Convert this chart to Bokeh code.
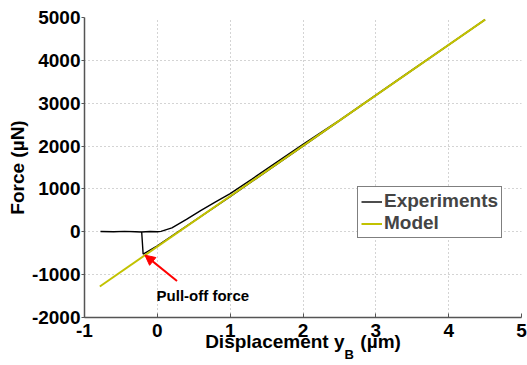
from bokeh.plotting import figure
from bokeh.models import (Label, Legend, LegendItem, Arrow, NormalHead, FixedTicker, Range1d,
                          LinearAxis, PrintfTickFormatter, Grid)
from bokeh.embed import file_html
from bokeh.resources import INLINE

# Data
model_x = [-0.79, 4.50]
model_y = [-1276, 4950]
exp_x = [-0.78, -0.6, -0.45, -0.3, -0.22, -0.1, 0.0, 0.05, 0.2, 0.4, 0.6, 0.8, 1.0, 1.3, 1.6, 2.0, 2.5, 3.0, 3.5, 4.0, 4.5,
         4.0, 3.0, 2.0, 1.0, 0.0, -0.195, -0.215]
exp_y = [5, 0, 10, 0, -5, 5, 0, 10, 90, 290, 500, 700, 890, 1230, 1580, 2040, 2600, 3190, 3780, 4360, 4950,
         4360, 3180, 2000, 820, -330, -520, 0]
x_ticks = [-1, 0, 1, 2, 3, 4, 5]
y_ticks = [-2000, -1000, 0, 1000, 2000, 3000, 4000, 5000]
x_title = "Displacement y\u00a0\u00a0\u00a0(µm)"
x_title_sub = "B"
y_title = "Force (µN)"
legend_labels = ["Experiments", "Model"]
annotation = "Pull-off force"

FONT = "Liberation Sans"
YEL = "#c2c200"
AX = "#555555"

p = figure(width=527, height=365, output_backend="svg", toolbar_location=None,
           x_range=Range1d(-1, 5), y_range=Range1d(-2000, 5000), x_axis_type=None,
           min_border_left=84, min_border_right=6, min_border_top=17, min_border_bottom=48)
p.outline_line_color = None
p.background_fill_color = "white"
p.border_fill_color = "white"

# main x axis
xa = LinearAxis(ticker=FixedTicker(ticks=x_ticks), formatter=PrintfTickFormatter(format="%d"))
p.add_layout(xa, "below")
# second (label-only) axis carrying the subscript of the x title
sub_pos = 2.633
xs = LinearAxis(ticker=FixedTicker(ticks=[sub_pos]), major_label_overrides={sub_pos: x_title_sub})
p.add_layout(xs, "below")

ya = p.yaxis[0]
ya.ticker = FixedTicker(ticks=y_ticks)
ya.formatter = PrintfTickFormatter(format="%d")

for ax in (xa, ya):
    ax.axis_line_color = AX
    ax.axis_line_width = 1.5
    ax.major_tick_line_color = AX
    ax.minor_tick_line_color = None
    ax.major_label_text_font = FONT
    ax.major_label_text_font_style = "bold"
    ax.major_label_text_font_size = "19px"
    ax.major_label_text_color = "black"
    ax.axis_label_text_font = FONT
    ax.axis_label_text_font_style = "bold"
    ax.axis_label_text_font_size = "19px"
    ax.axis_label_text_color = "black"

xa.major_tick_in = 4
xa.major_tick_out = 0
xa.major_label_standoff = 6
xa.axis_label = x_title
xa.axis_label_standoff = -9

xs.axis_line_color = None
xs.major_tick_line_color = None
xs.minor_tick_line_color = None
xs.major_tick_in = 0
xs.major_tick_out = 0
xs.major_label_standoff = -8
xs.major_label_text_font = FONT
xs.major_label_text_font_style = "bold"
xs.major_label_text_font_size = "13px"
xs.major_label_text_color = "black"

ya.major_tick_in = 0
ya.major_tick_out = 3
ya.major_label_standoff = 1
ya.axis_label = y_title
ya.axis_label_standoff = 1

p.ygrid.ticker = FixedTicker(ticks=y_ticks)
xg = Grid(dimension=0, ticker=FixedTicker(ticks=x_ticks))
p.add_layout(xg, "center")
for g in (xg, p.ygrid[0]):
    g.grid_line_color = "#a8a8a8"
    g.grid_line_dash = "1 3"
    g.grid_line_width = 1

r_exp = p.line(exp_x, exp_y, line_color="black", line_width=1.4)
r_model = p.line(model_x, model_y, line_color=YEL, line_width=2)

legend = Legend(items=[LegendItem(label=legend_labels[0], renderers=[r_exp]),
                       LegendItem(label=legend_labels[1], renderers=[r_model])],
                location=(273, 79))
legend.label_text_font = FONT
legend.label_text_font_style = "bold"
legend.label_text_font_size = "19px"
legend.border_line_color = "black"
legend.border_line_width = 1
legend.background_fill_alpha = 1
legend.glyph_width = 21
legend.glyph_height = 21
legend.label_height = 21
legend.label_standoff = 2
legend.padding = 3
legend.spacing = 0
legend.margin = 0
p.add_layout(legend, "center")

p.add_layout(Arrow(end=NormalHead(size=10, fill_color="red", line_color="red"),
                   x_start=0.27, y_start=-1150, x_end=-0.17, y_end=-545,
                   line_color="red", line_width=2))
p.add_layout(Label(x=-0.01, y=-1493, text=annotation, text_font=FONT, text_font_style="bold",
                   text_font_size="15px", text_baseline="middle", text_color="black"))

open("out.html", "w").write(file_html(p, INLINE))
